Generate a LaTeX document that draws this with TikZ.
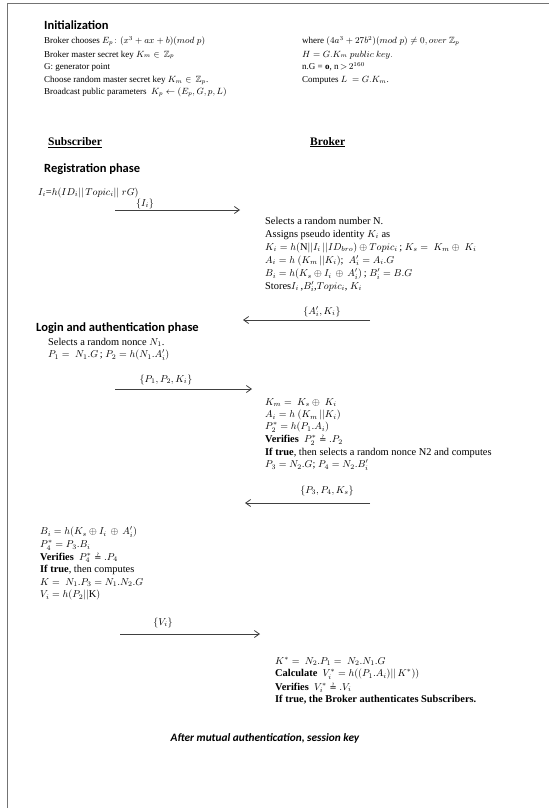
\documentclass[tikz,border=0pt]{standalone}
\usepackage{amsmath,amssymb}
\usepackage{fontspec}
\setmainfont{Liberation Serif}
\newfontfamily\hdfont{Carlito}
\newfontfamily\symfont{DejaVu Sans}
\usetikzlibrary{arrows.meta}
\newcommand{\qeq}{\mathrel{\text{\symfont\fontsize{8.5}{9}\selectfont ≟}}}
\begin{document}
\begin{tikzpicture}[x=1pt,y=-1pt,
  init/.style={anchor=base west, inner sep=0pt, font=\fontsize{9}{10}\selectfont},
  txt/.style={anchor=base west, inner sep=0pt, font=\fontsize{10.4}{12}\selectfont},
  hd/.style={anchor=base west, inner sep=0pt, font=\hdfont\bfseries\fontsize{12.5}{14}\selectfont},
  role/.style={anchor=base west, inner sep=0pt, font=\bfseries\fontsize{11.5}{13}\selectfont},
  lbl/.style={anchor=base, inner sep=0pt, font=\fontsize{10}{11}\selectfont},
  msg/.style={-{Straight Barb[length=5pt,width=7pt]}, line width=0.8pt, draw=black!75}]
\useasboundingbox (0,0) rectangle (549,808);
\fill[white] (0,0) rectangle (549,808);
\draw[line width=1pt, black!55] (7,808) -- (7,4) -- (549,4);

% Initialization
\node[hd] (inith) at (44,30) {Initialization};
\node[init] (i1) at (44,44) {Broker chooses $E_p\colon (x^3+ax+b)(mod\;p)$};
\node[init] (i2) at (44,57) {Broker master secret key $K_m \in\, \mathbb{Z}_p$};
\node[init] (i3) at (44,70) {G: generator point};
\node[init] (i4) at (44,82) {Choose random master secret key $K_m \in\, \mathbb{Z}_p$.};
\node[init] (i5) at (44,94) {Broadcast public parameters\ \ $K_p \leftarrow (E_p, G, p, L)$};
\node[init] (r1) at (302,44) {where $(4a^3+27b^2)(mod\;p)\neq 0, over\ \mathbb{Z}_p$};
\node[init] (r2) at (302,57) {$H = G.K_m\ public\ key.$};
\node[init] (r3) at (302,70) {n.G = \textbf{o}, n$\,{>}\,2^{160}$};
\node[init] (r4) at (302,82) {Computes $L\ = G.K_m$.};

% Roles
\node[role] (sub) at (48,145) {\underline{Subscriber}};
\node[role] (bro) at (310,145) {\underline{Broker}};

% Registration
\node[hd] (regh) at (44,172) {Registration phase};
\node[txt] (s1) at (38,195) {$I_i$=$h(ID_i||\,Topic_i||\;rG)$};
\node[lbl] (m1) at (145,206) {$\{I_i\}$};
\coordinate (a1s) at (115,210);
\coordinate (a1e) at (240,210);
\draw[msg] (a1s) -- (a1e);

\node[txt] (b1) at (265,224) {Selects a random number N.};
\node[txt] (b2) at (265,237) {Assigns pseudo identity $K_i$ as};
\node[txt] (b3) at (265,250) {$K_i = h(\mathrm{N}||I_i\,||ID_{bro}) \oplus Topic_i$\,; $K_s =\ K_m \oplus\ K_i$};
\node[txt] (b4) at (265,263) {$A_i = h\ (K_m\,||K_i)$;\ \ $A_i' = A_i.G$};
\node[txt] (b5) at (265,276.5) {$B_i = h(K_s \oplus I_i \,\oplus\, A_i')$\,; $B_i' = B.G$};
\node[txt] (b6) at (265,289) {Stores$I_i$\,,$B_i'$,$Topic_i$, $K_i$};

\node[lbl] (m2) at (322,314) {$\{A_i',K_i\}$};
\coordinate (a2s) at (370,320);
\coordinate (a2e) at (243,320);
\draw[msg] (a2s) -- (a2e);

% Login
\node[hd] (logh) at (36,331) {Login and authentication phase};
\node[txt] (s2) at (48,345) {Selects a random nonce $N_1$.};
\node[txt] (s3) at (48,357.5) {$P_1 =\ N_1.G$\,; $P_2 = h(N_1.A_i')$};

\node[lbl] (m3) at (166,382) {$\{P_1, P_2, K_i\}$};
\coordinate (a3s) at (115,389);
\coordinate (a3e) at (252,389);
\draw[msg] (a3s) -- (a3e);

\node[txt] (c1) at (265,405) {$K_m =\ K_s \oplus\ K_i$};
\node[txt] (c2) at (265,417.5) {$A_i = h\ (K_m\,||K_i)$};
\node[txt] (c3) at (265,429.5) {$P_2^* = h(P_1.A_i)$};
\node[txt] (c4) at (265,442.5) {\textbf{Verifies}\ \ $P_2^*\qeq.P_2$};
\node[txt] (c5) at (265,455) {\textbf{If true}, then selects a random nonce N2 and computes};
\node[txt] (c6) at (265,467.5) {$P_3 = N_2.G$; $P_4 = N_2.B_i'$};

\node[lbl] (m4) at (327,493) {$\{P_3, P_4, K_s\}$};
\coordinate (a4s) at (370,503);
\coordinate (a4e) at (245,503);
\draw[msg] (a4s) -- (a4e);

\node[txt] (d1) at (40,534.5) {$B_i = h(K_s \oplus I_i \,\oplus\, A_i')$};
\node[txt] (d2) at (40,547.5) {$P_4^* = P_3.B_i$};
\node[txt] (d3) at (40,560) {\textbf{Verifies}\ \ $P_4^*\qeq.P_4$};
\node[txt] (d4) at (40,572.5) {\textbf{If true}, then computes};
\node[txt] (d5) at (40,585) {$K =\ N_1.P_3 = N_1.N_2.G$};
\node[txt] (d6) at (40,597.5) {$V_i = h(P_2||$K$)$};

\node[lbl] (m5) at (163,625) {$\{V_i\}$};
\coordinate (a5s) at (120,634);
\coordinate (a5e) at (260,634);
\draw[msg] (a5s) -- (a5e);

\node[txt] (e1) at (275,664) {$K^* =\ N_2.P_1 =\ N_2.N_1.G$};
\node[txt] (e2) at (275,676.5) {\textbf{Calculate}\ \ $V_i^* = h((P_1.A_i)||\,K^*))$};
\node[txt] (e3) at (275,690) {\textbf{Verifies}\ \ $V_i^*\qeq.V_i$};
\node[txt] (e4) at (275,702.5) {\textbf{If true, the Broker authenticates Subscribers.}};

\node[anchor=base, inner sep=0pt, font=\hdfont\bfseries\itshape\fontsize{11.3}{13}\selectfont] (fin) at (265,741) {After mutual authentication, session key};
\end{tikzpicture}
\end{document}
